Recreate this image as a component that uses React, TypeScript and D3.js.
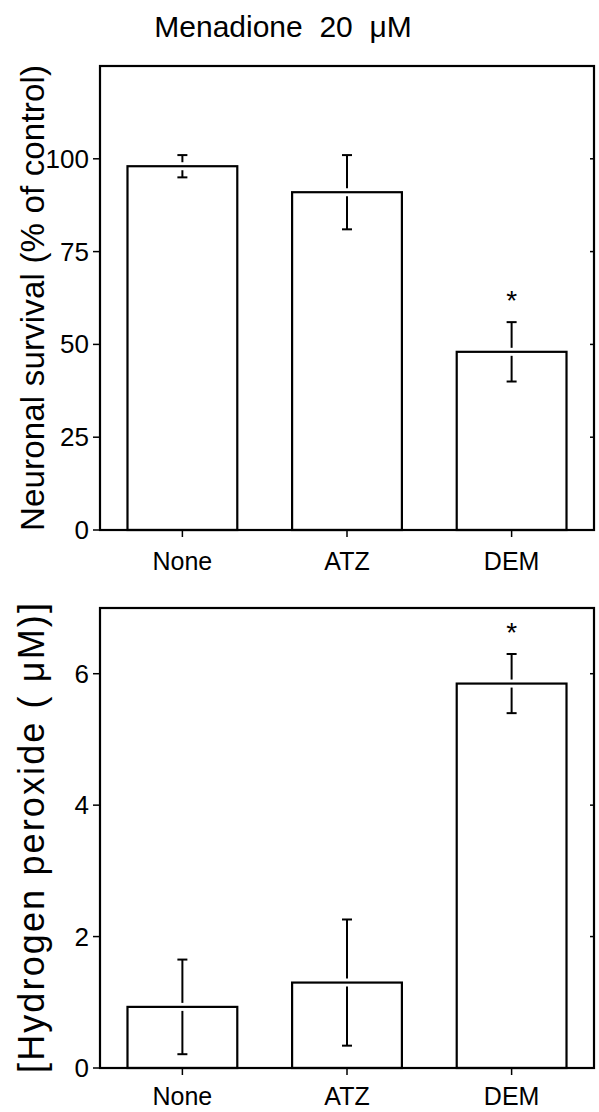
import React from "react";
import * as d3 from "d3";

const categories = ["None", "ATZ", "DEM"];
const survivalMean = [98, 91, 48];
const survivalErr = [3, 10, 8];
const survivalTicks = [0, 25, 50, 75, 100];
const h2o2Mean = [0.93, 1.3, 5.85];
const h2o2Err = [0.72, 0.96, 0.45];
const h2o2Ticks = [0, 2, 4, 6];
const significant = [false, false, true];

const FONT = "'Liberation Sans', Arial, Helvetica, sans-serif";

type PanelProps = {
  top: number;
  bottom: number;
  yMax: number;
  means: number[];
  errs: number[];
  ticks: number[];
  label: string;
  labelSize: number;
  labelLen: number;
  xLabelDy: number;
};

function Panel({ top, bottom, yMax, means, errs, ticks, label, labelSize, labelLen, xLabelDy }: PanelProps) {
  const left = 100;
  const right = 594;
  const x = d3.scaleBand<string>().domain(categories).range([left, right]).paddingInner(0.333).paddingOuter(0.167);
  const y = d3.scaleLinear().domain([0, yMax]).range([bottom, top]);
  const bw = x.bandwidth();
  return (
    <g>
      {categories.map((c, i) => {
        const x0 = x(c)!;
        const cx = x0 + bw / 2;
        const yt = y(means[i]);
        const hi = y(means[i] + errs[i]);
        const lo = y(means[i] - errs[i]);
        const gap = 4;
        return (
          <g key={c}>
            <rect x={x0} y={yt} width={bw} height={bottom - yt} fill="#fff" stroke="#000" strokeWidth={2.2} />
            <line x1={cx} x2={cx} y1={hi} y2={Math.min(yt - gap, lo)} stroke="#000" strokeWidth={2} />
            {lo > yt + gap && <line x1={cx} x2={cx} y1={yt + gap} y2={lo} stroke="#000" strokeWidth={2} />}
            <line x1={cx - 5} x2={cx + 5} y1={hi} y2={hi} stroke="#000" strokeWidth={2} />
            <line x1={cx - 5} x2={cx + 5} y1={lo} y2={lo} stroke="#000" strokeWidth={2} />
            {significant[i] && (
              <text x={cx} y={hi - 28 + 16} textAnchor="middle" fontSize={28} fontFamily={FONT}>*</text>
            )}
            <line x1={cx} x2={cx} y1={bottom} y2={bottom + 7} stroke="#000" strokeWidth={1.5} />
            <text x={cx} y={bottom + xLabelDy} textAnchor="middle" fontSize={25} fontFamily={FONT}>{c}</text>
          </g>
        );
      })}
      <rect x={left} y={y(yMax)} width={right - left} height={bottom - y(yMax)} fill="none" stroke="#000" strokeWidth={2.2} />
      {ticks.map((t) => (
        <g key={t}>
          <line x1={left - 7} x2={left} y1={y(t)} y2={y(t)} stroke="#000" strokeWidth={1.5} />
          {t > 0 && <line x1={right - 4} x2={right} y1={y(t)} y2={y(t)} stroke="#000" strokeWidth={1.5} />}
          <text x={left - 11} y={y(t) + 9} textAnchor="end" fontSize={26} fontFamily={FONT}>{t}</text>
        </g>
      ))}
      <text
        transform={`translate(44, ${(top + bottom) / 2}) rotate(-90)`}
        textAnchor="middle"
        fontSize={labelSize}
        fontFamily={FONT}
        textLength={labelLen}
        lengthAdjust="spacing"
        style={{ whiteSpace: "pre" }}
      >
        {label}
      </text>
    </g>
  );
}

export default function App() {
  return (
    <div style={{ position: "absolute", left: 0, top: 0 }}>
      <svg width={599} height={1112} style={{ display: "block", background: "#fff" }}>
        <text x={283} y={37} textAnchor="middle" fontSize={30} fontFamily={FONT} style={{ whiteSpace: "pre" }}>
          {"Menadione  20  \u03bcM"}
        </text>
        <Panel top={66} bottom={530} yMax={125} means={survivalMean} errs={survivalErr} ticks={survivalTicks}
          label={"Neuronal survival (% of control)"} labelSize={33} labelLen={466} xLabelDy={40} />
        <Panel top={608} bottom={1068} yMax={7} means={h2o2Mean} errs={h2o2Err} ticks={h2o2Ticks}
          label={"[Hydrogen peroxide ( \u03bcM)]"} labelSize={36} labelLen={470} xLabelDy={37} />
      </svg>
    </div>
  );
}
